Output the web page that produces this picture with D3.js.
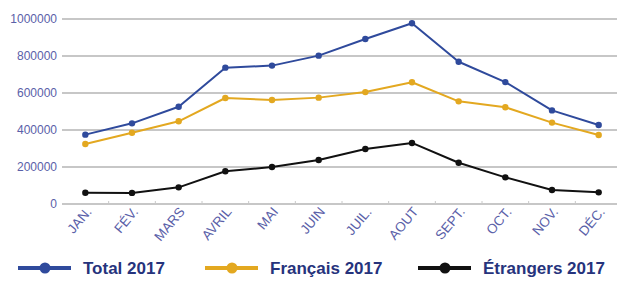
<!DOCTYPE html>
<html>
<head>
<meta charset="utf-8">
<script src="https://cdn.jsdelivr.net/npm/d3@7"></script>
<style>
  body { margin: 0; background: #fff; }
  svg { display: block; }
</style>
</head>
<body>
<svg id="chart" width="617" height="300"></svg>
<script>
// months on the x axis
const months = ['JAN.', 'FÉV.', 'MARS', 'AVRIL', 'MAI', 'JUIN', 'JUIL.', 'AOUT', 'SEPT.', 'OCT.', 'NOV.', 'DÉC.'];

// visitors per month
const total2017 = [375000, 436000, 526000, 737000, 748000, 802000, 892000, 977000, 769000, 659000, 506000, 427000];
const francais2017 = [324000, 385000, 447000, 573000, 562000, 575000, 605000, 658000, 555000, 523000, 440000, 373000];
const etrangers2017 = [61000, 60000, 90000, 177000, 200000, 238000, 297000, 330000, 223000, 144000, 76000, 63000];

const yTicks = [0, 200000, 400000, 600000, 800000, 1000000];

const seriesNames = ['Total 2017', 'Français 2017', 'Étrangers 2017'];
const seriesColors = ['#2f4a9c', '#e3a820', '#111111'];

const series = [total2017, francais2017, etrangers2017].map((values, i) => ({
  name: seriesNames[i],
  color: seriesColors[i],
  values: values
}));

const svg = d3.select('#chart');

/**
 * Plot area
 */
const plot = { left: 62, right: 622, top: 19, bottom: 204 };

const x = d3.scalePoint()
  .domain(months)
  .range([plot.left, plot.right])
  .padding(0.5);

const y = d3.scaleLinear()
  .domain([0, 1000000])
  .range([plot.bottom, plot.top]);

// grid lines
svg.append('g')
  .selectAll('line')
  .data(yTicks)
  .join('line')
  .attr('x1', plot.left)
  .attr('x2', plot.right)
  .attr('y1', d => y(d))
  .attr('y2', d => y(d))
  .attr('stroke', '#b4b4b4')
  .attr('stroke-width', 1.5);

// y axis labels
const yAxis = svg.append('g')
  .attr('transform', `translate(${plot.left},0)`)
  .call(d3.axisLeft(y).tickValues(yTicks).tickFormat(d3.format('d')).tickSize(0).tickPadding(5));
yAxis.select('.domain').remove();
yAxis.selectAll('text')
  .attr('fill', '#5a60a8')
  .style('font-family', '"Liberation Sans", Arial, sans-serif')
  .style('font-size', '12px');

// small ticks between categories
const step = x.step();
svg.append('g')
  .selectAll('line')
  .data(months.slice(1))
  .join('line')
  .attr('x1', d => x(d) - step / 2)
  .attr('x2', d => x(d) - step / 2)
  .attr('y1', plot.bottom)
  .attr('y2', plot.bottom - 3)
  .attr('stroke', '#c8c8c8')
  .attr('stroke-width', 1);

// x axis labels, rotated
svg.append('g')
  .selectAll('text')
  .data(months)
  .join('text')
  .attr('transform', d => `translate(${x(d) + 7},${plot.bottom + 8}) rotate(-50)`)
  .attr('text-anchor', 'end')
  .attr('fill', '#5a60a8')
  .style('font-family', '"Liberation Sans", Arial, sans-serif')
  .style('font-size', '13.5px')
  .text(d => d);

/**
 * Lines and markers
 */
const line = d3.line()
  .x((d, i) => x(months[i]))
  .y(d => y(d));

const groups = svg.append('g')
  .selectAll('g')
  .data(series)
  .join('g');

groups.append('path')
  .attr('d', d => line(d.values))
  .attr('fill', 'none')
  .attr('stroke', d => d.color)
  .attr('stroke-width', 2)
  .attr('stroke-linejoin', 'round');

groups.selectAll('circle')
  .data(d => d.values.map((v, i) => ({ v, i, color: d.color })))
  .join('circle')
  .attr('cx', d => x(months[d.i]))
  .attr('cy', d => y(d.v))
  .attr('r', 3.2)
  .attr('fill', d => d.color);

/**
 * Legend
 */
const legendX = [18, 205, 418];
const legendY = 268;

const legend = svg.append('g')
  .selectAll('g')
  .data(series)
  .join('g')
  .attr('transform', (d, i) => `translate(${legendX[i]},${legendY})`);

legend.append('line')
  .attr('x1', 0)
  .attr('x2', 53)
  .attr('stroke', d => d.color)
  .attr('stroke-width', 4);

legend.append('circle')
  .attr('cx', 27)
  .attr('r', 5.5)
  .attr('fill', d => d.color);

legend.append('text')
  .attr('x', 65)
  .attr('dy', '0.36em')
  .attr('fill', '#26337c')
  .style('font-family', '"Liberation Sans", Arial, sans-serif')
  .style('font-weight', 'bold')
  .style('font-size', '17px')
  .text(d => d.name);
</script>
</body>
</html>
